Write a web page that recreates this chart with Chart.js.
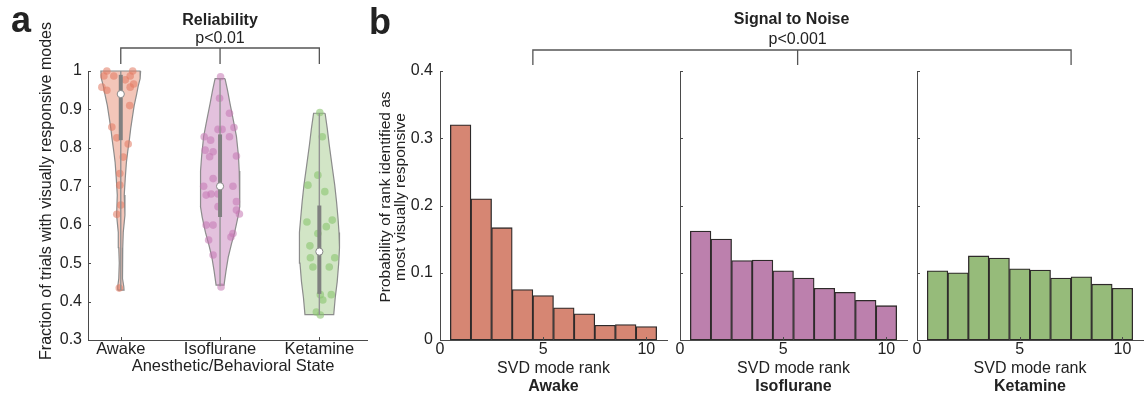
<!DOCTYPE html>
<html>
<head>
<meta charset="utf-8">
<title>Reliability and signal to noise by state</title>
<script src="https://cdn.jsdelivr.net/npm/chart.js@4.4.1/dist/chart.umd.min.js"></script>
<style>
  body { margin: 0; background: #fff; }
  #figure { position: relative; width: 1146px; height: 398px; }
  #figure canvas { position: absolute; left: 0; top: 0; }
</style>
</head>
<body>
<div id="figure">
  <canvas id="violinChart" width="1146" height="398"></canvas>
  <canvas id="histAwake" width="1146" height="398"></canvas>
  <canvas id="histIso" width="1146" height="398"></canvas>
  <canvas id="histKet" width="1146" height="398"></canvas>
</div>
<script>
// ---------- panel a: reliability per animal ----------
var states = ['Awake', 'Isoflurane', 'Ketamine'];
var statePositions = [1, 2, 3];
var reliabilityTicks = [0.3, 0.4, 0.5, 0.6, 0.7, 0.8, 0.9, 1];

var awakeReliability = [1.0, 0.987, 0.987, 1.0, 0.987, 0.977, 0.958, 0.95, 0.958, 0.966, 0.91, 0.854, 0.826, 0.81, 0.776, 0.733, 0.703, 0.651, 0.627, 0.435];
var awakeJitter = [-0.14, -0.07, -0.17, 0.12, 0.095, 0.045, -0.19, -0.14, 0.095, 0.13, 0.09, -0.09, -0.04, 0.075, 0.025, -0.01, -0.01, 0.0, -0.04, -0.015];

var isoReliability = [0.985, 0.929, 0.89, 0.848, 0.848, 0.853, 0.829, 0.829, 0.82, 0.794, 0.79, 0.777, 0.779, 0.72, 0.70, 0.70, 0.677, 0.68, 0.68, 0.66, 0.647, 0.638, 0.628, 0.599, 0.599, 0.577, 0.568, 0.56, 0.521, 0.438];
var isoJitter = [0.005, -0.005, 0.095, -0.02, 0.02, 0.14, -0.16, 0.095, -0.095, -0.15, -0.07, -0.105, 0.165, -0.07, -0.165, 0.13, -0.14, -0.09, -0.02, 0.165, -0.02, 0.165, 0.195, -0.14, -0.07, 0.13, 0.11, -0.115, -0.07, 0.01];

var ketReliability = [0.892, 0.829, 0.729, 0.703, 0.686, 0.607, 0.612, 0.595, 0.577, 0.545, 0.514, 0.514, 0.49, 0.49, 0.418, 0.418, 0.404, 0.373, 0.365];
var ketJitter = [0.005, 0.03, -0.015, -0.115, 0.055, -0.125, 0.13, 0.07, -0.015, -0.095, -0.09, 0.155, -0.065, 0.1, 0.01, 0.12, 0.035, -0.03, 0.01];

// kernel density outline: level -> half width (in x units)
var awakeLevels = [1.0, 0.98, 0.96, 0.94, 0.91, 0.876, 0.85, 0.824, 0.79, 0.763, 0.72, 0.677, 0.625, 0.58, 0.54, 0.50, 0.46, 0.44, 0.43];
var awakeWidths = [0.20, 0.195, 0.175, 0.16, 0.135, 0.115, 0.10, 0.088, 0.07, 0.057, 0.045, 0.035, 0.042, 0.025, 0.02, 0.015, 0.02, 0.03, 0.033];
var isoLevels = [0.98, 0.95, 0.916, 0.87, 0.83, 0.78, 0.74, 0.70, 0.647, 0.62, 0.58, 0.55, 0.516, 0.48, 0.443];
var isoWidths = [0.05, 0.075, 0.10, 0.135, 0.165, 0.185, 0.193, 0.20, 0.197, 0.18, 0.147, 0.115, 0.083, 0.06, 0.04];
var ketLevels = [0.89, 0.85, 0.807, 0.75, 0.703, 0.66, 0.617, 0.58, 0.54, 0.50, 0.452, 0.41, 0.366];
var ketWidths = [0.058, 0.08, 0.10, 0.13, 0.155, 0.173, 0.188, 0.198, 0.203, 0.195, 0.18, 0.16, 0.145];

var medians = [0.94, 0.70, 0.53];
var lowerQuartiles = [0.82, 0.62, 0.42];
var upperQuartiles = [0.99, 0.835, 0.65];
var minimums = [0.43, 0.44, 0.365];
var maximums = [1.0, 0.98, 0.89];

// ---------- panel b: rank of most visually responsive SVD mode ----------
var ranks = [1, 2, 3, 4, 5, 6, 7, 8, 9, 10];
var rankTicks = [0, 5, 10];
var probTicks = [0, 0.1, 0.2, 0.3, 0.4];
var awakeProb = [0.32, 0.21, 0.167, 0.075, 0.066, 0.048, 0.039, 0.022, 0.023, 0.020];
var isoProb = [0.162, 0.150, 0.118, 0.119, 0.103, 0.092, 0.077, 0.071, 0.059, 0.051];
var ketProb = [0.103, 0.100, 0.125, 0.122, 0.106, 0.104, 0.092, 0.094, 0.083, 0.077];

var fontFamily = '"Liberation Sans", Arial, Helvetica, sans-serif';
var textColor = '#222';
var axisColor = '#4a4a4a';

function setTicks(values) {
    return function (scale) {
        scale.ticks = values.map(function (v) { return {value: v}; });
    };
}

function fixSize(size) {
    return function (scale) {
        if (scale.isHorizontal()) {
            scale.height = size;
        } else {
            scale.width = size;
        }
    };
}

function drawText(ctx, text, x, y, font, rotate) {
    ctx.save();
    ctx.font = font;
    ctx.fillStyle = textColor;
    ctx.textAlign = 'center';
    ctx.textBaseline = 'middle';
    ctx.translate(x, y);
    if (rotate) ctx.rotate(-Math.PI / 2);
    ctx.fillText(text, 0, 0);
    ctx.restore();
}

function drawBracket(ctx, left, middle, right, top, bottom) {
    ctx.save();
    ctx.strokeStyle = '#555';
    ctx.lineWidth = 1.3;
    ctx.beginPath();
    ctx.moveTo(left, bottom);
    ctx.lineTo(left, top);
    ctx.lineTo(right, top);
    ctx.lineTo(right, bottom);
    ctx.moveTo(middle, top);
    ctx.lineTo(middle, bottom);
    ctx.stroke();
    ctx.restore();
}

// matlab style ticks pointing into the axes
var tickMarks = {
    id: 'tickMarks',
    afterDraw: function (chart) {
        var ctx = chart.ctx;
        var area = chart.chartArea;
        var xs = chart.scales.x;
        var ys = chart.scales.y;
        ctx.save();
        ctx.strokeStyle = axisColor;
        ctx.lineWidth = 1;
        ctx.beginPath();
        xs.ticks.forEach(function (t) {
            var px = Math.round(xs.getPixelForValue(t.value)) + 0.5;
            ctx.moveTo(px, area.bottom);
            ctx.lineTo(px, area.bottom - 3);
        });
        ys.ticks.forEach(function (t) {
            var py = Math.round(ys.getPixelForValue(t.value)) + 0.5;
            ctx.moveTo(area.left, py);
            ctx.lineTo(area.left + 3, py);
        });
        ctx.stroke();
        ctx.restore();
    }
};

function violinOutline(pos, levels, widths) {
    var pts = [];
    for (var i = 0; i < levels.length; i++) {
        pts.push({x: pos + widths[i], y: levels[i]});
    }
    for (var i = levels.length - 1; i >= 0; i--) {
        pts.push({x: pos - widths[i], y: levels[i]});
    }
    pts.push(pts[0]);
    return pts;
}

loadViolins();
var awakeHist = loadHistogram('histAwake', awakeProb, '#d68673', 440, 667, true, 'Awake');
var isoHist = loadHistogram('histIso', isoProb, '#bc80ad', 680, 907, false, 'Isoflurane');
var ketHist = loadHistogram('histKet', ketProb, '#96bb7a', 917, 1143, false, 'Ketamine');

function loadViolins() {
    var groups = [
        {levels: awakeLevels, widths: awakeWidths, values: awakeReliability, jitter: awakeJitter},
        {levels: isoLevels, widths: isoWidths, values: isoReliability, jitter: isoJitter},
        {levels: ketLevels, widths: ketWidths, values: ketReliability, jitter: ketJitter}
    ];
    var fills = ['#f3c6b9', '#e3c1dd', '#d2e5c6'];
    var dots = ['rgba(226,120,96,0.55)', 'rgba(196,118,178,0.55)', 'rgba(138,196,112,0.6)'];

    var datasets = [];
    for (var i = 0; i < groups.length; i++) {
        var g = groups[i];
        var pos = statePositions[i];
        var pts = [];
        for (var j = 0; j < g.values.length; j++) {
            pts.push({x: pos + g.jitter[j], y: g.values[j]});
        }
        datasets.push({
            type: 'line', data: violinOutline(pos, g.levels, g.widths), fill: 'shape',
            backgroundColor: fills[i], borderColor: '#8c8c8c', borderWidth: 1.2,
            pointRadius: 0, tension: 0, order: 5, clip: false
        });
        datasets.push({
            type: 'scatter', data: pts, pointRadius: 3.8, backgroundColor: dots[i],
            borderWidth: 0, order: 4, clip: false
        });
        datasets.push({
            type: 'line', data: [{x: pos, y: minimums[i]}, {x: pos, y: maximums[i]}],
            borderColor: '#939393', borderWidth: 1.4, pointRadius: 0, fill: false, order: 3, clip: false
        });
        datasets.push({
            type: 'line', data: [{x: pos, y: lowerQuartiles[i]}, {x: pos, y: upperQuartiles[i]}],
            borderColor: '#808080', borderWidth: 4, borderCapStyle: 'butt', pointRadius: 0, fill: false, order: 2, clip: false
        });
        datasets.push({
            type: 'scatter', data: [{x: pos, y: medians[i]}], pointRadius: 3.6,
            backgroundColor: '#fff', borderColor: '#8a8a8a', borderWidth: 1, order: 1, clip: false
        });
    }

    var notes = {
        id: 'violinNotes',
        afterDraw: function (chart) {
            var ctx = chart.ctx;
            var area = chart.chartArea;
            var xs = chart.scales.x;
            var x1 = xs.getPixelForValue(1), x2 = xs.getPixelForValue(2), x3 = xs.getPixelForValue(3);
            drawText(ctx, 'a', 21, 22, 'bold 36px ' + fontFamily);
            drawText(ctx, 'Reliability', x2, area.top - 50, 'bold 16px ' + fontFamily);
            drawText(ctx, 'p<0.01', x2, area.top - 32, '16px ' + fontFamily);
            drawBracket(ctx, x1, x2, x3, area.top - 23, area.top - 7);
            drawText(ctx, 'Fraction of trials with visually responsive modes', 47, 191, '16px ' + fontFamily, true);
            drawText(ctx, 'Anesthetic/Behavioral State', 233, 366, '16.5px ' + fontFamily);
        }
    };

    new Chart(document.getElementById('violinChart'), {
        type: 'scatter',
        data: {datasets: datasets},
        options: {
            responsive: false,
            animation: false,
            events: [],
            layout: {padding: {left: 38, right: 1146 - 367, top: 71, bottom: 0}},
            plugins: {legend: {display: false}, tooltip: {enabled: false}},
            scales: {
                x: {
                    type: 'linear', min: 0.67, max: 3.48,
                    afterBuildTicks: setTicks(statePositions),
                    afterFit: fixSize(58),
                    grid: {display: false, drawTicks: false},
                    border: {color: axisColor, width: 1},
                    ticks: {
                        callback: function (v) { return states[v - 1]; },
                        font: {family: fontFamily, size: 16.5}, color: textColor,
                        padding: 0, maxRotation: 0, autoSkip: false
                    }
                },
                y: {
                    min: 0.3, max: 1,
                    afterBuildTicks: setTicks(reliabilityTicks),
                    afterFit: fixSize(50),
                    grid: {display: false, drawTicks: false},
                    border: {color: axisColor, width: 1},
                    ticks: {
                        callback: function (v) { return String(v); },
                        font: {family: fontFamily, size: 16}, color: textColor, padding: 6
                    }
                }
            }
        },
        plugins: [tickMarks, notes]
    });
}

function loadHistogram(canvasId, probs, color, areaLeft, areaRight, showLabels, stateName) {
    var bars = [];
    for (var i = 0; i < ranks.length; i++) {
        bars.push({x: ranks[i], y: probs[i]});
    }

    var notes = {
        id: 'histNotes',
        afterDraw: function (chart) {
            var ctx = chart.ctx;
            var area = chart.chartArea;
            var mid = (area.left + area.right) / 2;
            drawText(ctx, 'SVD mode rank', mid, 369, '16px ' + fontFamily);
            drawText(ctx, stateName, mid, 387, 'bold 16px ' + fontFamily);
            if (showLabels) {
                drawText(ctx, 'b', 380, 24, 'bold 36px ' + fontFamily);
                drawText(ctx, 'Probability of rank identified as', 386, 197, '15.5px ' + fontFamily, true);
                drawText(ctx, 'most visually responsive', 401, 197, '15.5px ' + fontFamily, true);
            }
            if (stateName === 'Ketamine') {
                // comparison bracket across the three histograms
                var left = awakeHist.scales.x.getPixelForValue(4.5);
                var middle = isoHist.scales.x.getPixelForValue(5.7);
                var right = chart.scales.x.getPixelForValue(7.5);
                drawBracket(ctx, left, middle, right, area.top - 21, area.top - 6);
                drawText(ctx, 'Signal to Noise', middle - 6, area.top - 51, 'bold 16px ' + fontFamily);
                drawText(ctx, 'p<0.001', middle, area.top - 31, '16px ' + fontFamily);
            }
        }
    };

    return new Chart(document.getElementById(canvasId), {
        type: 'bar',
        data: {
            datasets: [{
                data: bars,
                backgroundColor: color,
                borderColor: '#2e2a2a',
                borderWidth: 1.3,
                borderSkipped: false,
                barPercentage: 1,
                categoryPercentage: 1
            }]
        },
        options: {
            responsive: false,
            animation: false,
            events: [],
            layout: {padding: {left: areaLeft - 60, right: 1146 - areaRight, top: 71, bottom: 0}},
            plugins: {legend: {display: false}, tooltip: {enabled: false}},
            scales: {
                x: {
                    type: 'linear', min: 0, max: 11, offset: false,
                    afterBuildTicks: setTicks(rankTicks),
                    afterFit: fixSize(58),
                    grid: {display: false, drawTicks: false},
                    border: {color: axisColor, width: 1},
                    ticks: {
                        font: {family: fontFamily, size: 16}, color: textColor,
                        padding: 0, maxRotation: 0, autoSkip: false
                    }
                },
                y: {
                    min: 0, max: 0.4,
                    afterBuildTicks: setTicks(probTicks),
                    afterFit: fixSize(60),
                    grid: {display: false, drawTicks: false},
                    border: {color: axisColor, width: 1},
                    ticks: {
                        display: showLabels,
                        callback: function (v) { return String(v); },
                        font: {family: fontFamily, size: 16}, color: textColor, padding: 7
                    }
                }
            }
        },
        plugins: [tickMarks, notes]
    });
}
</script>
</body>
</html>
